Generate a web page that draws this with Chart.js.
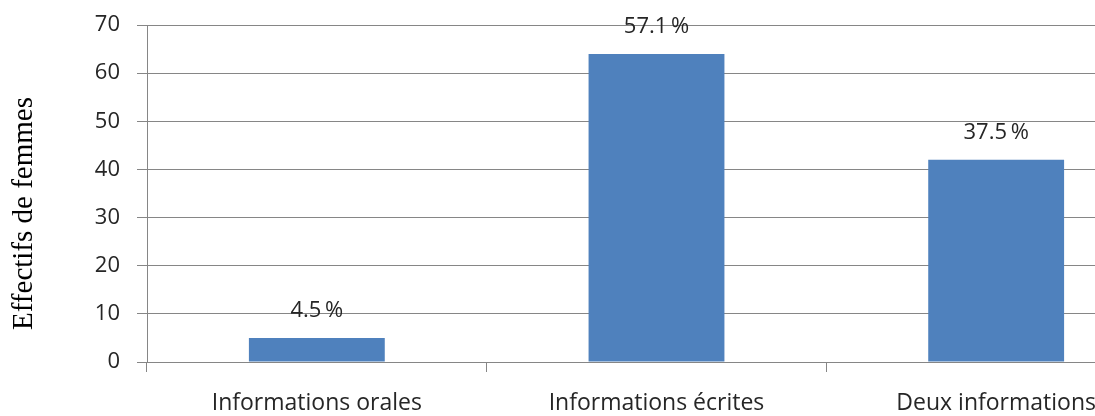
<!DOCTYPE html>
<html>
<head>
<meta charset="utf-8">
<script src="https://cdn.jsdelivr.net/npm/chart.js@4/dist/chart.umd.min.js"></script>
<style>
  html, body { margin: 0; padding: 0; background: #fff; overflow: hidden; }
  #wrap { width: 1170px; height: 416px; }
</style>
</head>
<body>
<div id="wrap"><canvas id="chart" width="1170" height="416"></canvas></div>
<script>
const categories = ['Informations orales', 'Informations écrites', 'Deux informations'];
const effectifs = [5, 64, 42];
const pourcentages = ['4.5\u2009%', '57.1\u2009%', '37.5\u2009%'];
const yTicks = [0, 10, 20, 30, 40, 50, 60, 70];
const yTitle = 'Effectifs de femmes';

// labels above bars + y title (drawn a bit below centre, like the original)
const barLabels = {
    id: 'barLabels',
    afterDatasetsDraw(chart) {
        const c = chart.ctx;
        const meta = chart.getDatasetMeta(0);
        c.save();
        c.font = '22px "Open Sans"';
        c.fillStyle = '#262626';
        c.textAlign = 'center';
        c.textBaseline = 'middle';
        meta.data.forEach((bar, i) => {
            c.fillText(pourcentages[i], bar.x, bar.y - 27);
        });
        c.restore();

        const area = chart.chartArea;
        c.save();
        c.translate(24, (area.top + area.bottom) / 2 + 20);
        c.rotate(-Math.PI / 2);
        c.font = '29px "Liberation Serif"';
        c.fillStyle = '#000';
        c.textAlign = 'center';
        c.textBaseline = 'middle';
        c.fillText(yTitle, 0, 0);
        c.restore();
    }
};

new Chart(document.getElementById('chart'), {
    type: 'bar',
    data: {
        labels: categories,
        datasets: [{
            data: effectifs,
            backgroundColor: '#4F81BD',
            categoryPercentage: 1,
            barPercentage: 0.4
        }]
    },
    options: {
        responsive: false,
        animation: false,
        layout: { padding: { top: 25, right: 4, left: 0, bottom: 0 } },
        plugins: { legend: { display: false }, tooltip: { enabled: false } },
        scales: {
            x: {
                grid: { drawOnChartArea: false, drawTicks: true, tickLength: 10, color: '#868686' },
                border: { color: '#868686' },
                ticks: { color: '#262626', font: { family: 'Open Sans', size: 23 }, padding: 18, maxRotation: 0 },
                afterFit(scale) { scale.height = 54; }
            },
            y: {
                min: 0,
                max: 70,
                afterBuildTicks(scale) { scale.ticks = yTicks.map(v => ({ value: v })); },
                grid: { color: '#868686', tickLength: 10 },
                border: { color: '#868686' },
                ticks: { color: '#262626', font: { family: 'Open Sans', size: 22 }, padding: 17 },
                afterFit(scale) {
                    scale.width = 147;
                    scale.paddingTop = 0;
                    scale.paddingBottom = 0;
                }
            }
        }
    },
    plugins: [barLabels]
});
</script>
</body>
</html>
